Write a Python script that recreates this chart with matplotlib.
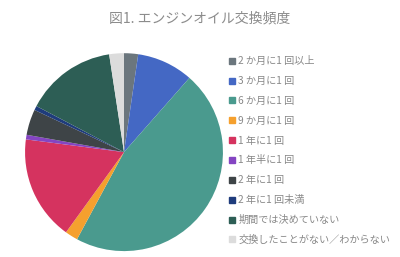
import matplotlib
matplotlib.use("Agg")
import matplotlib.pyplot as plt
from matplotlib.lines import Line2D

plt.rcParams['font.family'] = ['Noto Sans CJK JP', 'DejaVu Sans']

categories = ["2 か月に1 回以上", "3 か月に1 回", "6 か月に1 回", "9 か月に1 回",
              "1 年に1 回", "1 年半に1 回", "2 年に1 回", "2 年に1 回未満",
              "期間では決めていない", "交換したことがない／わからない"]
values = [2.3, 9.2, 46.4, 2.1, 17.1, 0.75, 4.2, 0.7, 14.9, 2.4]
colors = ["#6b767d", "#4468c4", "#4a9a8e", "#f5a02e", "#d5335f",
          "#8445c2", "#3e4447", "#1f3c7c", "#2d5e55", "#dcdcdc"]
title = "図1. エンジンオイル交換頻度"

fig = plt.figure(figsize=(4.0, 2.57), dpi=100)
ax = fig.add_axes([0.0625, 0.023, 0.495, 0.770])
ax.pie(values, colors=colors, startangle=90, counterclock=False,
       wedgeprops=dict(linewidth=0))
ax.set_xlim(-1, 1)
ax.set_ylim(-1, 1)
ax.set_aspect('equal')

fig.text(0.5, 0.93, title, ha='center', va='center', fontsize=10, color='#8c8c8c')

handles = [Line2D([0], [0], marker='s', linestyle='none', markersize=5,
                  markerfacecolor=c, markeredgecolor=c) for c in colors]
leg = fig.legend(handles, categories, loc='upper left', bbox_to_anchor=(0.562, 0.797),
                 frameon=False, fontsize=7.3, handlelength=0.6, handletextpad=0.35,
                 labelspacing=0.97, borderaxespad=0)
for t in leg.get_texts():
    t.set_color('#888888')

fig.savefig("out.png", dpi=100)
